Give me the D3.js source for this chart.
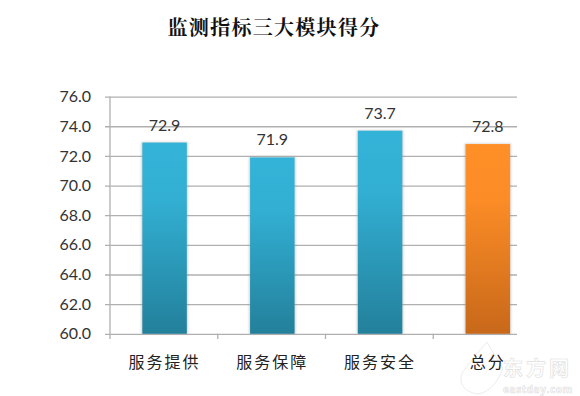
<!DOCTYPE html>
<html><head><meta charset="utf-8">
<script src="https://cdn.jsdelivr.net/npm/d3@7"></script>
<style>html,body{margin:0;padding:0;background:#fff}svg{display:block}</style>
</head><body><svg id="c" width="580" height="396"></svg>
<script>
const titleText = "监测指标三大模块得分";
const categories = ["服务提供","服务保障","服务安全","总分"];
const values = [72.9,71.9,73.7,72.8];
const valueLabels = ["72.9","71.9","73.7","72.8"];
const tickValues = [60,62,64,66,68,70,72,74,76];
const svg = d3.select("#c");
const axisColor = "#b0b0b0";
const numFont = "Lato, Carlito, 'Open Sans', sans-serif";
const cjk = "'Noto Sans CJK SC', sans-serif";
const plotRight = 517;
const barNudge = 0.7;
const x = d3.scaleBand().domain(categories).range([110,541]).paddingInner(0.587).paddingOuter(0.2935);
const y = d3.scaleLinear().domain([60,76]).range([333.8,96.6]);
const defs = svg.append("defs");
function grad(id,a,b,c){
  const g = defs.append("linearGradient").attr("id",id).attr("x1",0).attr("y1",0).attr("x2",0).attr("y2",1);
  g.append("stop").attr("offset","0%").attr("stop-color",a);
  g.append("stop").attr("offset","30%").attr("stop-color",b);
  g.append("stop").attr("offset","100%").attr("stop-color",c);
}
grad("blue","#34b3d8","#32afd3","#23809b");
grad("orange","#ff9028","#fb8c26","#c8681a");
const f = defs.append("filter").attr("id","sh").attr("x","-10%").attr("y","-5%").attr("width","120%").attr("height","110%");
f.append("feGaussianBlur").attr("stdDeviation",1.2);
svg.append("text").attr("x",274).attr("y",35).attr("text-anchor","middle")
  .style("font-family","'Noto Serif CJK SC','Noto Sans CJK SC',serif").style("font-weight",700).style("font-size","20px").style("letter-spacing","1.3px").attr("fill","#111").text(titleText);
// grid + ticks
const yAxis = d3.axisLeft(y).tickValues(tickValues).tickSize(-(plotRight-110)).tickFormat(d3.format(".1f"));
const gy = svg.append("g").attr("transform","translate(110,0)").call(yAxis);
gy.select(".domain").remove();
gy.selectAll(".tick line").attr("stroke",axisColor).attr("stroke-width",1.3).attr("x1",-5);
gy.selectAll("text").attr("fill","#333").style("font-family",numFont).style("font-size","16px").attr("x",-19);
svg.append("line").attr("x1",110).attr("x2",110).attr("y1",y(76)).attr("y2",339).attr("stroke",axisColor).attr("stroke-width",1.3);
// category ticks
const step = x.step();
svg.append("g").selectAll("line").data(categories.slice(1)).join("line")
  .attr("x1",d=>x(d)-(step-x.bandwidth())/2).attr("x2",d=>x(d)-(step-x.bandwidth())/2)
  .attr("y1",y(60)).attr("y2",339).attr("stroke",axisColor).attr("stroke-width",1.3);
// bars
const colorOf = (d,i)=> i===3?"orange":"blue";
svg.append("g").selectAll("rect").data(values).join("rect")
  .attr("x",(d,i)=>x(categories[i])+barNudge-1).attr("width",x.bandwidth()+2)
  .attr("y",d=>y(d)-0.5).attr("height",d=>y(60)-y(d)+0.5).attr("fill","#999").attr("opacity",.45).attr("filter","url(#sh)");
svg.append("g").selectAll("rect").data(values).join("rect")
  .attr("x",(d,i)=>x(categories[i])+barNudge).attr("width",x.bandwidth())
  .attr("y",d=>y(d)).attr("height",d=>y(60)-y(d)).attr("fill",(d,i)=>`url(#${colorOf(d,i)})`);
// watermark swoosh (below the labels)
svg.append("path").attr("d","M487 342 C478 352 470 362 463 372 C458 380 462 392 478 394 C490 392 498 382 503 368 C497 358 491 350 487 342 Z")
  .attr("fill","#fff").attr("stroke","#ececec").attr("stroke-width",1);
// value labels
svg.append("g").selectAll("text").data(values).join("text")
  .attr("x",(d,i)=>x(categories[i])+x.bandwidth()/2+barNudge).attr("y",d=>y(d)-12).attr("text-anchor","middle")
  .attr("fill","#333").style("font-family",numFont).style("font-size","16px").text((d,i)=>valueLabels[i]);
// category labels
svg.append("g").selectAll("text").data(categories).join("text")
  .attr("x",d=>x(d)+x.bandwidth()/2+barNudge).attr("y",368).attr("text-anchor","middle")
  .attr("fill","#222").style("font-family",cjk).style("font-size","16px").style("letter-spacing","2px").text(d=>d);
// watermark
const wm = svg.append("g").attr("fill","#fff").attr("stroke","#dedede").attr("stroke-width",.6).style("font-family",cjk);
wm.append("text").attr("x",503).attr("y",376).style("font-size","20px").style("font-weight",700).style("letter-spacing","3px").text("东方网");
wm.append("text").attr("x",503).attr("y",393).style("font-size","10px").style("font-weight",700).style("font-family","'Open Sans',sans-serif").style("letter-spacing","0.6px").text("eastday.com");
</script></body></html>
